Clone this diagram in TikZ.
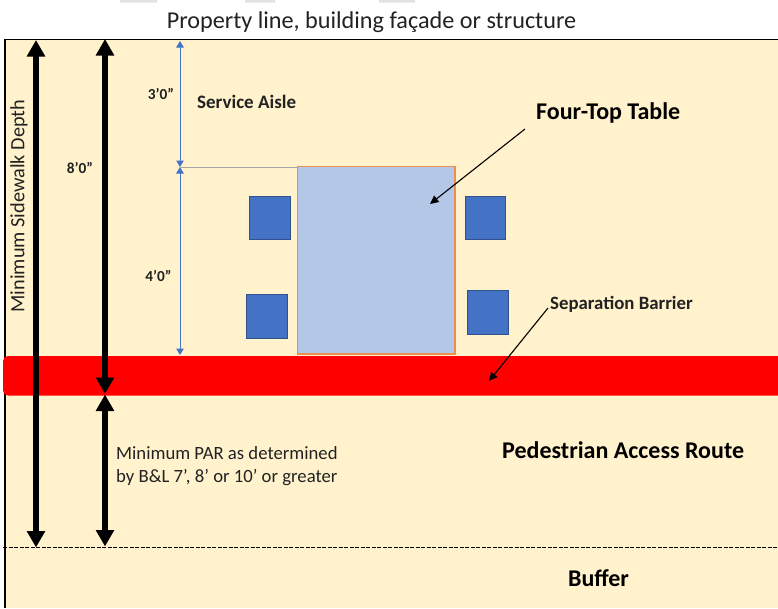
\documentclass[tikz,border=0pt]{standalone}
\usepackage{fontspec}
\setmainfont{Carlito}
\usetikzlibrary{arrows.meta}
\definecolor{cream}{HTML}{FFF2CC}
\definecolor{tablefill}{HTML}{B4C7E7}
\definecolor{tableline}{HTML}{ED8F4F}
\definecolor{seatfill}{HTML}{4472C4}
\definecolor{seatline}{HTML}{2F528F}
\definecolor{dimblue}{HTML}{4472C4}
\definecolor{txt}{HTML}{222222}
\definecolor{marks}{HTML}{E3E3E3}
\tikzset{
  x=1pt,y=-1pt,
  seat/.style={draw=seatline,fill=seatfill,line width=1pt},
  bigdim/.style={line width=5.4pt,draw=black,{Triangle[length=16.5pt,width=17.5pt]}-{Triangle[length=16.5pt,width=17.5pt]}},
  smalldim/.style={draw=dimblue,line width=1pt,{Triangle[length=6.5pt,width=7.5pt]}-{Triangle[length=6.5pt,width=7.5pt]}},
  leader/.style={draw=black,line width=1.1pt,-{Triangle[length=8.5pt,width=8pt]}},
  lab/.style={inner sep=0pt,text=txt,align=left},
  blab/.style={inner sep=0pt,text=txt,font=\bfseries\fontsize{15.3}{18}\selectfont},
  hlab/.style={inner sep=0pt,text=black,font=\bfseries\fontsize{24}{29}\selectfont},
}
\begin{document}
\begin{tikzpicture}
\useasboundingbox (0,0) rectangle (778,608);
\fill[white] (0,0) rectangle (778,608);
\fill[marks] (120,0) rectangle (157,2.5) (245,0) rectangle (275,2.5) (379,0) rectangle (415,2.5);
\fill[cream] (5,40) rectangle (778,608);
\draw[black,line width=1.2pt] (778,39.5) -- (5,39.5) -- (5,608);
\node[lab,anchor=center,font=\fontsize{24.2}{29}\selectfont] (title) at (371.5,22.5) {Property line, building façade or structure};
% barrier
\fill[red,rounded corners=5pt] (3,356) rectangle (790,395.5);
% table
\draw[draw=tableline,fill=tablefill,line width=1.6pt] (297.5,166.5) rectangle (455,354);
\node[seat,minimum width=41pt,minimum height=43pt,inner sep=0pt] (s1) at (270,217.5) {};
\node[seat,minimum width=40pt,minimum height=43pt,inner sep=0pt] (s2) at (485,217.5) {};
\node[seat,minimum width=41pt,minimum height=44pt,inner sep=0pt] (s3) at (267,316) {};
\node[seat,minimum width=41pt,minimum height=44pt,inner sep=0pt] (s4) at (488,312.5) {};
% coordinates
\coordinate (a1t) at (36,40); \coordinate (a1b) at (36,547.5);
\coordinate (a2t) at (105,39); \coordinate (a2b) at (105,394);
\coordinate (a3t) at (105,394.5); \coordinate (a3b) at (105,546.5);
\coordinate (d1t) at (180,41); \coordinate (d1b) at (180,167);
\coordinate (d2t) at (180,167); \coordinate (d2b) at (180,355);
\coordinate (ext) at (297,167);
\draw[bigdim] (a1t) -- (a1b);
\draw[bigdim] (a2t) -- (a2b);
\draw[bigdim] (a3t) -- (a3b);
\draw[smalldim] (d1t) -- (d1b);
\draw[smalldim] (d2t) -- (d2b);
\draw[draw=gray!70,line width=0.7pt] (d2t) -- (ext);
\draw[black,line width=0.5pt,dash pattern=on 4pt off 1.5pt] (3,547.5) -- (778,547.5);
% labels
\node[lab,rotate=90,anchor=center,font=\fontsize{20.3}{24}\selectfont] (msd) at (19,206) {Minimum Sidewalk Depth};
\node[blab] (l8) at (80,168) {8’0”};
\node[blab] (l3) at (161,93.5) {3’0”};
\node[blab] (l4) at (158.5,275.5) {4’0”};
\node[blab,anchor=west,font=\bfseries\fontsize{19}{22}\selectfont] (sa) at (197,101.5) {Service Aisle};
\node[hlab,anchor=west] (ft) at (536,112.5) {Four-Top Table};
\node[blab,anchor=west,font=\bfseries\fontsize{18.8}{22}\selectfont] (sb) at (550,304) {Separation Barrier};
\node[lab,anchor=north west,font=\fontsize{18.7}{23}\selectfont] (par) at (116,446) {Minimum PAR as determined\\by B\&L 7’, 8’ or 10’ or greater};
\node[hlab,anchor=west] (pr) at (502,450) {Pedestrian Access Route};
\node[hlab,anchor=center] (bf) at (598.5,578.5) {Buffer};
% leaders
\coordinate (t1) at (430,204); \coordinate (t2) at (489,381);
\draw[leader] (525,129) -- (t1);
\draw[leader] (548,308) -- (t2);
\end{tikzpicture}
\end{document}
